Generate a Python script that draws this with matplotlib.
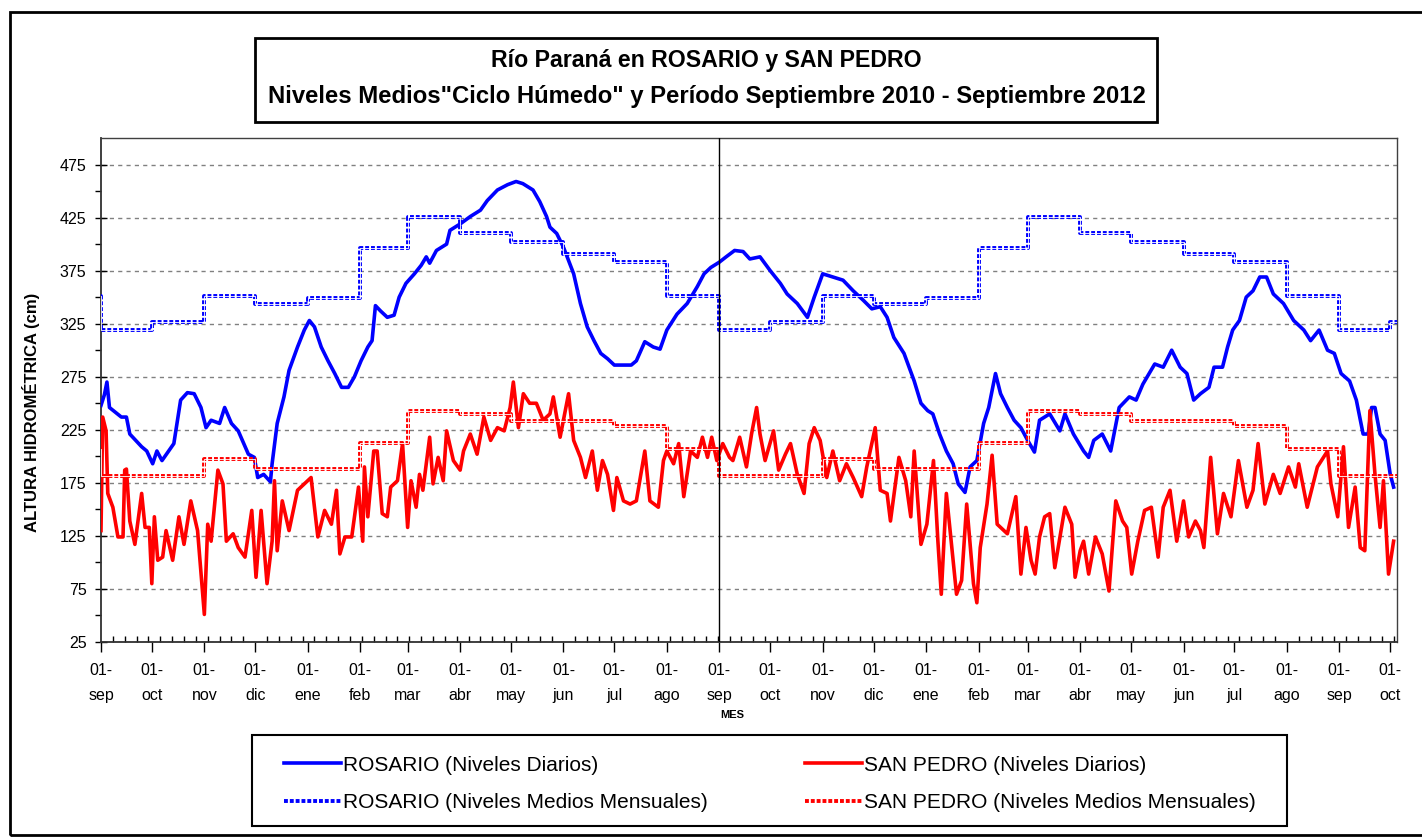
import numpy as np
import pandas as pd
import matplotlib
matplotlib.use('Agg')
import matplotlib.pyplot as plt
from matplotlib.patches import Rectangle

plt.rcParams['font.family'] = ['Liberation Sans', 'DejaVu Sans']

# fecha de inicio del periodo
inicio = pd.Timestamp('2010-09-01')

# ROSARIO niveles diarios (dias desde 01-sep-2010, cm)
dias_ros = [0, 2, 3.5, 5, 12, 15, 17, 24, 27, 30.5, 33, 36, 43, 47, 51, 55, 59, 62, 65, 70,
            73, 77, 81, 87, 90.5, 92.5, 96, 100, 101, 104, 108, 111, 116, 120, 123, 126, 130,
            134, 138, 142, 146, 149.6, 153.5, 157.5, 160, 162, 165, 169, 173, 176, 180, 185,
            189, 192, 194, 198, 204, 206, 212, 218, 224, 228, 234, 240, 245, 249, 255, 259,
            263, 265, 269, 273, 279, 283, 287, 291, 295, 299, 303, 308, 313, 316, 321, 326,
            330, 334, 340, 346, 352, 356, 360, 365, 369, 374, 379, 383, 389, 395, 401, 405,
            411, 417, 421, 426, 432, 438, 444, 450, 455, 460, 464, 468, 474, 480, 484, 488,
            491, 495, 499, 503, 506, 510, 513, 517, 521, 524, 528, 531, 535, 539, 543, 547,
            551, 554, 560, 566, 569, 574, 580, 583, 586, 591, 596, 601, 607, 611, 615, 622,
            627, 632, 637, 641, 645, 649, 654, 657, 662, 665, 668, 672, 676, 680, 684, 688,
            692, 698, 704, 710, 714, 719, 724, 728, 732, 737, 741, 745, 748, 750, 752, 755,
            758, 761, 763]
ros = [248, 258, 270, 246, 237, 237, 221, 209, 205, 193, 205, 196, 212, 253, 260, 259, 246,
       227, 234, 231, 246, 231, 224, 202, 199, 180, 183, 176, 193, 231, 256, 281, 303, 319,
       328, 322, 303, 290, 278, 265, 265, 275, 290, 303, 309, 342, 337, 331, 333, 350, 363,
       372, 380, 388, 382, 394, 400, 413, 419, 426, 432, 441, 451, 456, 459, 457, 451, 440,
       426, 416, 410, 397, 372, 344, 322, 309, 297, 292, 286, 286, 286, 290, 308, 303, 301,
       319, 334, 344, 360, 372, 378, 383, 388, 394, 393, 386, 388, 375, 363, 353, 344, 331,
       350, 372, 369, 366, 356, 347, 339, 341, 331, 312, 297, 271, 250, 243, 240, 221, 205,
       193, 174, 166, 190, 196, 231, 246, 278, 259, 246, 234, 227, 215, 204, 234, 240, 224,
       240, 221, 205, 199, 215, 221, 205, 246, 256, 253, 268, 287, 284, 300, 284, 278, 253,
       259, 265, 284, 284, 303, 319, 328, 350, 356, 369, 369, 353, 344, 328, 319, 309, 319,
       300, 297, 278, 271, 253, 221, 221, 246, 246, 221, 215, 183, 171]

# SAN PEDRO niveles diarios (dias desde 01-sep-2010, cm)
dias_sp = [0, 1, 3, 4, 7, 10, 13, 14, 15, 17, 20, 24, 26, 28.5, 30, 31.5, 33.5, 36.4, 38.4,
           42.3, 46, 49, 53, 57, 61, 63, 65, 69, 72, 74, 78, 81, 85, 89, 91.5, 94.5, 98, 101,
           102.4, 104, 107, 111, 116, 120, 124, 128, 132, 136, 139, 141, 144, 148, 152,
           154.5, 155.5, 157.5, 161, 163, 166, 169, 171, 175, 178, 181, 183, 186, 188, 190,
           194, 196, 199, 202, 204, 208, 212, 214, 218, 222, 226, 230, 234, 238, 241.5,
           243.4, 246.4, 249.3, 253, 257, 261, 265, 267, 271, 276, 279, 283, 286, 290, 293,
           296, 299, 302.5, 304.5, 308.4, 312.3, 316, 321, 324, 329, 332, 334, 338, 341, 344,
           348, 352, 355, 358, 360.5, 363.5, 367, 371, 373, 377, 381, 384, 387, 389, 392,
           397, 400, 404, 407, 411, 415, 418, 421, 424.5, 428.4, 432, 436, 440, 444, 449,
           452, 457, 460, 464, 466, 471, 475, 478, 480, 484, 487.5, 491.4, 494, 496, 499,
           503, 505, 508, 511, 515, 517, 519, 523, 526, 529, 535, 540, 543, 546, 549, 551.4,
           554, 557, 560, 563, 569, 573, 575, 578, 580, 583, 587, 591, 595, 599, 603, 605.5,
           608.4, 612, 616, 620, 624, 627, 631, 635, 639, 642, 646, 649, 651, 655, 659,
           662.6, 667, 671.4, 676.4, 680, 683, 687, 692, 696, 701, 705, 707, 712, 718, 724,
           726, 730, 733.4, 736.4, 740.3, 743.3, 746, 749, 752, 755, 757, 760, 763]
sp = [130, 237, 224, 165, 152, 124, 124, 187, 188, 139, 117, 165, 133, 133, 80, 143, 102,
      105, 130, 102, 143, 117, 158, 130, 51, 136, 120, 187, 174, 120, 127, 114, 105, 149, 86,
      149, 80, 120, 177, 111, 158, 130, 168, 174, 180, 124, 149, 136, 168, 108, 124, 124,
      171, 120, 190, 143, 205, 205, 146, 143, 171, 177, 212, 133, 177, 152, 183, 168, 218,
      174, 199, 177, 224, 196, 187, 205, 221, 202, 237, 215, 227, 224, 246, 270, 227, 259,
      250, 250, 234, 240, 256, 218, 259, 215, 199, 180, 205, 168, 196, 183, 149, 180, 158,
      155, 158, 205, 158, 152, 196, 205, 193, 212, 162, 205, 199, 218, 199, 218, 196, 212,
      199, 196, 218, 190, 221, 246, 221, 196, 224, 187, 202, 212, 183, 165, 212, 227, 215,
      180, 205, 177, 193, 180, 162, 190, 227, 168, 165, 139, 199, 177, 143, 205, 117, 136,
      196, 120, 70, 165, 102, 70, 83, 155, 80, 62, 114, 155, 201, 136, 127, 162, 89, 133,
      102, 89, 124, 143, 146, 95, 152, 136, 86, 111, 120, 89, 124, 108, 73, 158, 139, 133,
      89, 120, 149, 152, 105, 152, 168, 120, 158, 124, 139, 130, 114, 199, 127, 165, 143,
      196, 152, 168, 212, 155, 183, 165, 190, 171, 193, 152, 190, 205, 174, 143, 209, 133,
      171, 114, 111, 243, 183, 133, 177, 89, 120]

# niveles medios mensuales "ciclo humedo" (ene..dic, cm)
meses_abr = ['ene', 'feb', 'mar', 'abr', 'may', 'jun', 'jul', 'ago', 'sep', 'oct', 'nov', 'dic']
media_ros = [349, 396, 426, 410, 402, 391, 383, 351, 319, 327, 351, 344]
media_sp = [188, 213, 243, 240, 233, 233, 229, 207, 181, 181, 197, 188]

fechas_ros = inicio + pd.to_timedelta(dias_ros, unit='D')
fechas_sp = inicio + pd.to_timedelta(dias_sp, unit='D')

# escalones mensuales
bordes = pd.date_range('2010-08-01', '2012-11-01', freq='MS')
esc_ros = [media_ros[m.month - 1] for m in bordes[:-1]]
esc_sp = [media_sp[m.month - 1] for m in bordes[:-1]]
esc_ros.append(esc_ros[-1])
esc_sp.append(esc_sp[-1])

fig = plt.figure(figsize=(14.22, 8.39), dpi=100)
ax = fig.add_axes([101 / 1422, 1 - 642 / 839, 1296 / 1422, 504 / 839])

azul = '#0000FF'
rojo = '#FF0000'

l1, = ax.plot(fechas_ros, ros, color=azul, lw=2.6, zorder=3)
l2, = ax.plot(fechas_sp, sp, color=rojo, lw=2.6, zorder=3)

# linea punteada de los medios mensuales
l3, = ax.step(bordes, esc_ros, where='post', color=azul, lw=2.8,
              linestyle=(0, (1.0, 0.5)), zorder=4)
l4, = ax.step(bordes, esc_sp, where='post', color=rojo, lw=2.8,
              linestyle=(0, (1.0, 0.5)), zorder=4)
ax.step(bordes, esc_ros, where='post', color='white', lw=0.6, zorder=5)
ax.step(bordes, esc_sp, where='post', color='white', lw=0.6, zorder=5)

ax.axvline(pd.Timestamp('2011-09-01'), color='black', lw=1, zorder=6)

ax.set_ylim(25, 500)
ax.set_xlim(inicio, pd.Timestamp('2012-10-05'))

ax.set_yticks(np.arange(25, 500, 50))
ax.set_yticks(np.arange(50, 500, 50), minor=True)
ax.yaxis.grid(True, which='major', color='#808080', linestyle=(0, (3, 3)), lw=1)
ax.set_axisbelow(True)

meses = pd.date_range('2010-09-01', '2012-10-01', freq='MS')
ax.set_xticks(meses)
ax.set_xticklabels(['01-\n' + meses_abr[m.month - 1] for m in meses])
semanas = pd.date_range(inicio, pd.Timestamp('2012-10-05'), freq='7D')
ax.set_xticks(semanas, minor=True)

ax.tick_params(axis='y', which='major', direction='inout', length=9, width=1,
               labelsize=11.5, pad=6)
ax.tick_params(axis='y', which='minor', direction='out', length=4, width=1)
ax.tick_params(axis='x', which='major', direction='out', length=7, width=1,
               labelsize=11.5, pad=8)
ax.tick_params(axis='x', which='minor', direction='in', length=4, width=1)
for lab in ax.get_xticklabels():
    lab.set_linespacing(1.85)

for s in ['left', 'bottom']:
    ax.spines[s].set_color('#303030')
    ax.spines[s].set_linewidth(1.3)
for s in ['top', 'right']:
    ax.spines[s].set_color('#404040')
    ax.spines[s].set_linewidth(1)

ax.set_ylabel('ALTURA HIDROMÉTRICA (cm)', fontsize=12, fontweight='bold')
ax.yaxis.set_label_coords(-0.047, 0.455)
fig.text(732 / 1422, 1 - 715 / 839, 'MES', ha='center', va='center',
         fontsize=8, fontweight='bold')

# marco exterior
fig.patches.append(Rectangle((10 / 1422, 4 / 839), 1420 / 1422, 823 / 839,
                             transform=fig.transFigure, fill=False, ec='black', lw=2))

# caja del titulo
fig.patches.append(Rectangle((255 / 1422, 1 - 122 / 839), 902 / 1422, 84 / 839,
                             transform=fig.transFigure, fill=False, ec='black', lw=2))
fig.text(706 / 1422, 1 - 61 / 839, 'Río Paraná en ROSARIO y SAN PEDRO',
         ha='center', va='center', fontsize=16.7, fontweight='bold')
fig.text(707 / 1422, 1 - 96 / 839,
         'Niveles Medios"Ciclo Húmedo" y Período Septiembre 2010 - Septiembre 2012',
         ha='center', va='center', fontsize=17.2, fontweight='bold')

# caja de la leyenda
fig.patches.append(Rectangle((252 / 1422, 1 - 826 / 839), 1035 / 1422, 91 / 839,
                             transform=fig.transFigure, fill=False, ec='black', lw=1.5))
fig.legend([l1, l3, l2, l4],
           ['ROSARIO (Niveles Diarios)', 'ROSARIO (Niveles Medios Mensuales)',
            'SAN PEDRO (Niveles Diarios)', 'SAN PEDRO (Niveles Medios Mensuales)'],
           ncol=2, loc='center', bbox_to_anchor=(770 / 1422, 1 - 784 / 839),
           frameon=False, fontsize=15, handlelength=2.7, handletextpad=0.1,
           columnspacing=4.7, labelspacing=0.9, borderpad=0)

fig.savefig('out.png', dpi=100)
